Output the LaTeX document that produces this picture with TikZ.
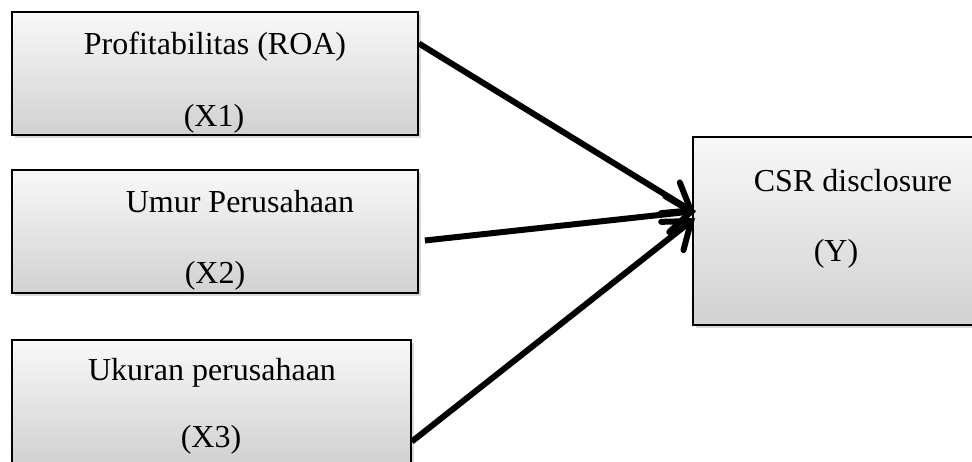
\documentclass[tikz,border=0pt]{standalone}
\usepackage{fontspec}
\setmainfont{Liberation Serif}
\usetikzlibrary{arrows.meta,shadows,calc}
\begin{document}
\begin{tikzpicture}[x=1pt,y=-1pt,
  box/.style={draw=black,line width=1.8pt,rectangle,inner sep=0pt,
    top color=gray!5,bottom color=gray!36,
    drop shadow={shadow xshift=2.5pt,shadow yshift=-3pt,opacity=0.3,fill=gray}},
  lbl/.style={anchor=base,inner sep=0pt,font=\fontsize{32}{36}\selectfont},
  arr/.style={line width=6pt,-{Straight Barb[length=24pt,width=36pt,line cap=round]}}]
\useasboundingbox (0,0) rectangle (972,462);
\clip (0,0) rectangle (972,462);
\node[box,minimum width=406pt,minimum height=123pt] (b1) at (215,73.5) {};
\node[box,minimum width=406pt,minimum height=123pt] (b2) at (215,231.5) {};
\node[box,minimum width=399pt,minimum height=123pt] (b3) at (211.5,401.5) {};
\node[box,minimum width=320pt,minimum height=188pt] (y) at (853,231) {};
\node[lbl] (t1a) at (215,55) {Profitabilitas (ROA)};
\node[lbl] (t1b) at (214,127) {(X1)};
\node[lbl] (t2a) at (240,213) {Umur Perusahaan};
\node[lbl] (t2b) at (215,284) {(X2)};
\node[lbl] (t3a) at (212,380) {Ukuran perusahaan};
\node[lbl] (t3b) at (211,447) {(X3)};
\node[lbl] (ty1) at (853,192) {CSR disclosure};
\node[lbl] (ty2) at (836,262) {(Y)};
\draw[arr] ($(b1.east)+(0,-30)$) -- ($(y.west)+(3,-18)$);
\draw[arr] ($(b2.east)+(6,9)$) -- ($(y.west)+(4,-20)$);
\draw[arr] ($(b3.east)+(0,40)$) -- ($(y.west)+(3,-13)$);
\end{tikzpicture}
\end{document}
